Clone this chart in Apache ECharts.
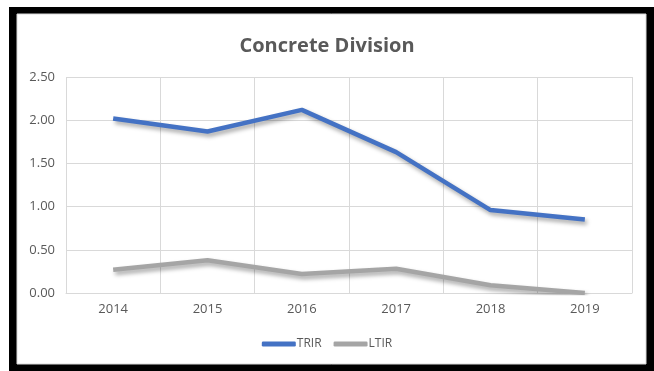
<!DOCTYPE html>
<html>
<head>
<meta charset="utf-8">
<script src="https://cdn.jsdelivr.net/npm/echarts@6/dist/echarts.min.js"></script>
<style>
html,body{margin:0;padding:0;background:#fff;}
#c{width:654px;height:371px;}
</style>
</head>
<body>
<div id="c"></div>
<script>
const years = ['2014','2015','2016','2017','2018','2019'];
const trir = [2.02, 1.87, 2.12, 1.63, 0.96, 0.85];
const ltir = [0.27, 0.38, 0.22, 0.28, 0.09, 0.00];
const yTicks = { min: 0, max: 2.5, interval: 0.5 };

const chart = echarts.init(document.getElementById('c'));
const shadow = { shadowColor: 'rgba(0,0,0,0.35)', shadowBlur: 4, shadowOffsetX: 2, shadowOffsetY: 3 };
chart.setOption({
  animation: false,
  backgroundColor: '#fff',
  graphic: [
    { type: 'rect', z: -10, shape: { x: 9, y: 7, width: 645, height: 364 }, style: { fill: '#000' } },
    { type: 'rect', z: -9, shape: { x: 17, y: 14, width: 629, height: 350 }, style: { fill: '#fff', stroke: '#d9d9d9', lineWidth: 1 } }
  ],
  title: {
    text: 'Concrete Division',
    left: 'center',
    top: 31,
    textStyle: { fontFamily: 'Open Sans', fontWeight: 'bold', fontSize: 20, color: '#595959' }
  },
  grid: { left: 66, right: 22, top: 77, bottom: 78 },
  legend: {
    bottom: 16,
    left: 'center',
    icon: 'roundRect',
    itemWidth: 34,
    itemHeight: 5,
    itemGap: 12,
    textStyle: { fontFamily: 'Open Sans', fontSize: 12, color: '#595959', padding: [0,0,0,-4] },
    data: ['TRIR', 'LTIR']
  },
  xAxis: {
    type: 'category',
    data: years,
    boundaryGap: true,
    axisTick: { show: false },
    axisLine: { lineStyle: { color: '#d9d9d9', width: 1 } },
    splitLine: { show: true, lineStyle: { color: '#d9d9d9', width: 1 } },
    axisLabel: { color: '#595959', fontFamily: 'Open Sans', fontSize: 13, margin: 10 }
  },
  yAxis: {
    type: 'value',
    min: yTicks.min, max: yTicks.max, interval: yTicks.interval,
    axisLine: { show: false },
    axisTick: { show: false },
    splitLine: { lineStyle: { color: '#d9d9d9', width: 1 } },
    axisLabel: { color: '#595959', fontFamily: 'Open Sans', fontSize: 13, margin: 11, formatter: v => v.toFixed(2) }
  },
  series: [
    { name: 'TRIR', type: 'line', data: trir, symbol: 'none', itemStyle: { color: '#4472C4' },
      lineStyle: Object.assign({ color: '#4472C4', width: 4.5 }, shadow) },
    { name: 'LTIR', type: 'line', data: ltir, symbol: 'none', itemStyle: { color: '#A5A5A5' },
      lineStyle: Object.assign({ color: '#A5A5A5', width: 4.5 }, shadow) }
  ]
});
</script>
</body>
</html>
